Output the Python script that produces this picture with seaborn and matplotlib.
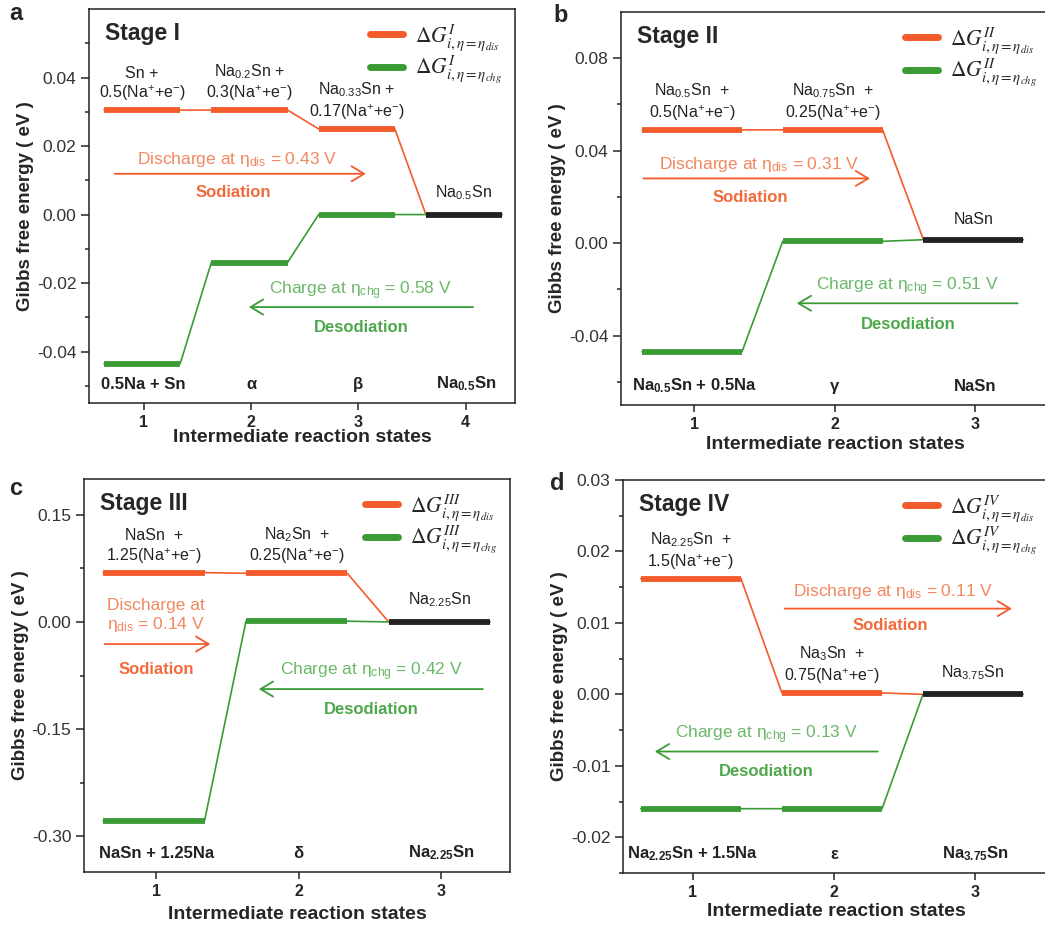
import numpy as np
import pandas as pd
import matplotlib
matplotlib.use("Agg")
import matplotlib.pyplot as plt
import seaborn as sns
from matplotlib.lines import Line2D
from matplotlib.font_manager import FontProperties
from matplotlib.ticker import FixedLocator, FixedFormatter

sns.set_style("ticks")
plt.rcParams['font.family'] = ['Liberation Sans', 'DejaVu Sans']
plt.rcParams['mathtext.fontset'] = 'custom'
plt.rcParams['mathtext.rm'] = 'Liberation Sans'
plt.rcParams['mathtext.it'] = 'Liberation Sans:italic'
plt.rcParams['mathtext.bf'] = 'Liberation Sans:bold'
plt.rcParams['axes.unicode_minus'] = False

ORANGE = "#F35B2A"
GREEN = "#3A9B35"
BLACK = "#222222"
ORANGE_TXT = "#F08860"
GREEN_TXT = "#6BB868"
LEFT, RIGHT = 0.37, 0.34

# ── data ─────────────────────────────────────────────────────────────────────
states_a = [1, 2, 3, 4]
dis_a = [0.0305, 0.0305, 0.025, 0.0]
chg_a = [-0.0435, -0.014, 0.0, 0.0]
top_a = ["Sn +\n0.5(Na$^{+}$+e$^{-}$)", "Na$_{0.2}$Sn +\n0.3(Na$^{+}$+e$^{-}$)",
         "Na$_{0.33}$Sn +\n0.17(Na$^{+}$+e$^{-}$)", "Na$_{0.5}$Sn"]
bottom_a = ["0.5Na + Sn", "α", "β", "Na$_{\\mathbf{0.5}}$Sn"]

states_b = [1, 2, 3]
dis_b = [0.049, 0.049, 0.0015]
chg_b = [-0.047, 0.0008, 0.0015]
top_b = ["Na$_{0.5}$Sn  +\n0.5(Na$^{+}$+e$^{-}$)", "Na$_{0.75}$Sn  +\n0.25(Na$^{+}$+e$^{-}$)", "NaSn"]
bottom_b = ["Na$_{\\mathbf{0.5}}$Sn + 0.5Na", "γ", "NaSn"]

states_c = [1, 2, 3]
dis_c = [0.069, 0.068, 0.0]
chg_c = [-0.278, 0.001, 0.0]
top_c = ["NaSn  +\n1.25(Na$^{+}$+e$^{-}$)", "Na$_{2}$Sn  +\n0.25(Na$^{+}$+e$^{-}$)", "Na$_{2.25}$Sn"]
bottom_c = ["NaSn + 1.25Na", "δ", "Na$_{\\mathbf{2.25}}$Sn"]

states_d = [1, 2, 3]
dis_d = [0.0162, 0.0002, 0.0]
chg_d = [-0.016, -0.016, 0.0]
top_d = ["Na$_{2.25}$Sn  +\n1.5(Na$^{+}$+e$^{-}$)", "Na$_{3}$Sn  +\n0.75(Na$^{+}$+e$^{-}$)", "Na$_{3.75}$Sn"]
bottom_d = ["Na$_{\\mathbf{2.25}}$Sn + 1.5Na", "ε", "Na$_{\\mathbf{3.75}}$Sn"]

W, H = 1045, 927
fig = plt.figure(figsize=(W / 100, H / 100), dpi=100)


def add_ax(l, r, t, b):
    return fig.add_axes([l / W, 1 - b / H, (r - l) / W, (b - t) / H])


def panel(ax, states, dis, chg, top, bottom, roman, xlim, ylim, major, minor, fmt, xlab_y):
    for vals, color in [(dis, ORANGE), (chg, GREEN)]:
        xs, ys = [], []
        for s, v in zip(states, vals):
            xs += [s - LEFT, s + RIGHT]
            ys += [v, v]
        df = pd.DataFrame({"x": xs, "y": ys})
        sns.lineplot(data=df, x="x", y="y", sort=False, estimator=None,
                     color=color, lw=1.2, ax=ax, legend=False)
    st = np.array(states)
    ax.hlines(dis[:-1], st[:-1] - LEFT, st[:-1] + RIGHT, color=ORANGE, lw=4.2, zorder=3)
    ax.hlines(chg[:-1], st[:-1] - LEFT, st[:-1] + RIGHT, color=GREEN, lw=4.2, zorder=3)
    ax.hlines(dis[-1], st[-1] - LEFT, st[-1] + RIGHT, color=BLACK, lw=4.2, zorder=4)

    cx = st + (RIGHT - LEFT) / 2
    for i, lab in enumerate(top):
        off = 9 if i == len(top) - 1 else 5
        ax.annotate(lab, (cx[i], dis[i]), xytext=(0, off), textcoords="offset points",
                    ha="center", va="bottom", fontsize=11.5, color=BLACK, linespacing=1.2)
    tr = ax.get_xaxis_transform()
    for s, lab in zip(states, bottom):
        ax.text(s, 0.048, lab, transform=tr, ha="center", va="center",
                fontsize=12, fontweight="bold", color=BLACK)

    ax.text(0.038, 0.937, "Stage " + roman, transform=ax.transAxes, ha="left", va="center",
            fontsize=16.5, fontweight="bold")

    handles = [Line2D([], [], color=ORANGE, lw=5), Line2D([], [], color=GREEN, lw=5)]
    labels = [r"$\Delta G^{%s}_{i,\eta=\eta_{dis}}$" % roman, r"$\Delta G^{%s}_{i,\eta=\eta_{chg}}$" % roman]
    ax.legend(handles, labels, loc="upper right", bbox_to_anchor=(1.0, 1.0), frameon=False,
              prop=FontProperties(size=15.5, math_fontfamily="stix"),
              handlelength=1.55, handletextpad=0.55, labelspacing=0.05, borderaxespad=0.2)

    ax.set_xlim(*xlim)
    ax.set_ylim(*ylim)
    ax.set_xticks(states)
    ax.set_xticklabels([str(s) for s in states], fontweight="bold", fontsize=11.5)
    ax.yaxis.set_major_locator(FixedLocator(major))
    ax.yaxis.set_major_formatter(FixedFormatter([fmt % v for v in major]))
    ax.yaxis.set_minor_locator(FixedLocator(minor))
    ax.tick_params(axis="y", which="major", labelsize=12.5, labelcolor="#333333", length=5.5, width=1.1)
    ax.tick_params(axis="y", which="minor", length=3, width=1.1)
    ax.tick_params(axis="x", length=5, width=1.1)
    ax.set_xlabel("Intermediate reaction states", fontsize=14, fontweight="bold")
    ax.set_ylabel("Gibbs free energy ( eV )", fontsize=13.5, fontweight="bold")
    ax.yaxis.set_label_coords(-0.128, 0.5)
    ax.xaxis.set_label_coords(0.5, xlab_y)
    for sp in ax.spines.values():
        sp.set_color(BLACK)
        sp.set_linewidth(1.1)


def arrows(ax, dis_text, dis_xy, dis_arrow, sod_xy, chg_text, chg_xy, chg_arrow, desod_xy):
    ax.text(*dis_xy, dis_text, ha="center", va="center", fontsize=12.5, color=ORANGE_TXT, linespacing=1.15)
    ax.annotate("", xy=dis_arrow[1], xytext=dis_arrow[0],
                arrowprops=dict(arrowstyle="->,head_length=0.75,head_width=0.45", color=ORANGE,
                                lw=1.3, shrinkA=0, shrinkB=0, mutation_scale=12))
    ax.text(*sod_xy, "Sodiation", ha="center", va="center", fontsize=12, fontweight="bold", color="#F26A3C")
    ax.text(*chg_xy, chg_text, ha="center", va="center", fontsize=12.5, color=GREEN_TXT)
    ax.annotate("", xy=chg_arrow[1], xytext=chg_arrow[0],
                arrowprops=dict(arrowstyle="->,head_length=0.75,head_width=0.45", color=GREEN,
                                lw=1.3, shrinkA=0, shrinkB=0, mutation_scale=12))
    ax.text(*desod_xy, "Desodiation", ha="center", va="center", fontsize=12, fontweight="bold", color="#4DA84B")


# ── panel a ──────────────────────────────────────────────────────────────────
ax_a = add_ax(89, 515, 9, 403)
panel(ax_a, states_a, dis_a, chg_a, top_a, bottom_a, "I", (0.49, 4.46), (-0.055, 0.06),
      [-0.04, -0.02, 0.0, 0.02, 0.04], [-0.05, -0.03, -0.01, 0.01, 0.03, 0.05], "%.2f", -0.066)
arrows(ax_a, "Discharge at η$_{\\mathrm{dis}}$ = 0.43 V", (1.87, 0.016), [(0.73, 0.0119), (3.07, 0.0119)],
       (1.83, 0.0064), "Charge at η$_{\\mathrm{chg}}$ = 0.58 V", (3.02, -0.0223),
       [(4.07, -0.027), (1.98, -0.027)], (3.03, -0.033))

# ── panel b ──────────────────────────────────────────────────────────────────
ax_b = add_ax(621, 1050, 12, 405)
panel(ax_b, states_b, dis_b, chg_b, top_b, bottom_b, "II", (0.48, 3.53), (-0.07, 0.10),
      [-0.04, 0.0, 0.04, 0.08], [-0.06, -0.02, 0.02, 0.06], "%.2f", -0.079)
arrows(ax_b, "Discharge at η$_{\\mathrm{dis}}$ = 0.31 V", (1.46, 0.034), [(0.64, 0.028), (2.25, 0.028)],
       (1.40, 0.0198), "Charge at η$_{\\mathrm{chg}}$ = 0.51 V", (2.52, -0.019),
       [(3.30, -0.026), (1.73, -0.026)], (2.52, -0.035))

# ── panel c ──────────────────────────────────────────────────────────────────
ax_c = add_ax(84, 510, 479, 872)
panel(ax_c, states_c, dis_c, chg_c, top_c, bottom_c, "III", (0.495, 3.48), (-0.35, 0.20),
      [-0.30, -0.15, 0.0, 0.15], [-0.225, -0.075, 0.075], "%.2f", -0.087)
arrows(ax_c, "Discharge at\nη$_{\\mathrm{dis}}$ = 0.14 V", (1.0, 0.0077), [(0.64, -0.031), (1.38, -0.031)],
       (1.0, -0.066), "Charge at η$_{\\mathrm{chg}}$ = 0.42 V", (2.51, -0.07),
       [(3.29, -0.094), (1.72, -0.094)], (2.51, -0.122))

# ── panel d ──────────────────────────────────────────────────────────────────
ax_d = add_ax(623, 1050, 480, 873)
panel(ax_d, states_d, dis_d, chg_d, top_d, bottom_d, "IV", (0.504, 3.53), (-0.025, 0.03),
      [-0.02, -0.01, 0.0, 0.01, 0.02, 0.03], [-0.025, -0.015, -0.005, 0.005, 0.015, 0.025], "%.2f", -0.076)
arrows(ax_d, "Discharge at η$_{\\mathrm{dis}}$ = 0.11 V", (2.42, 0.0144), [(1.65, 0.012), (3.26, 0.012)],
       (2.40, 0.0097), "Charge at η$_{\\mathrm{chg}}$ = 0.13 V", (1.52, -0.0056),
       [(2.31, -0.008), (0.73, -0.008)], (1.52, -0.0108))

for letter, px, py in [("a", 16, 14), ("b", 561, 15), ("c", 16, 488), ("d", 557, 483)]:
    fig.text(px / W, 1 - py / H, letter, fontsize=17, fontweight="bold", ha="center", va="center")

fig.savefig("out.png", dpi=100)
